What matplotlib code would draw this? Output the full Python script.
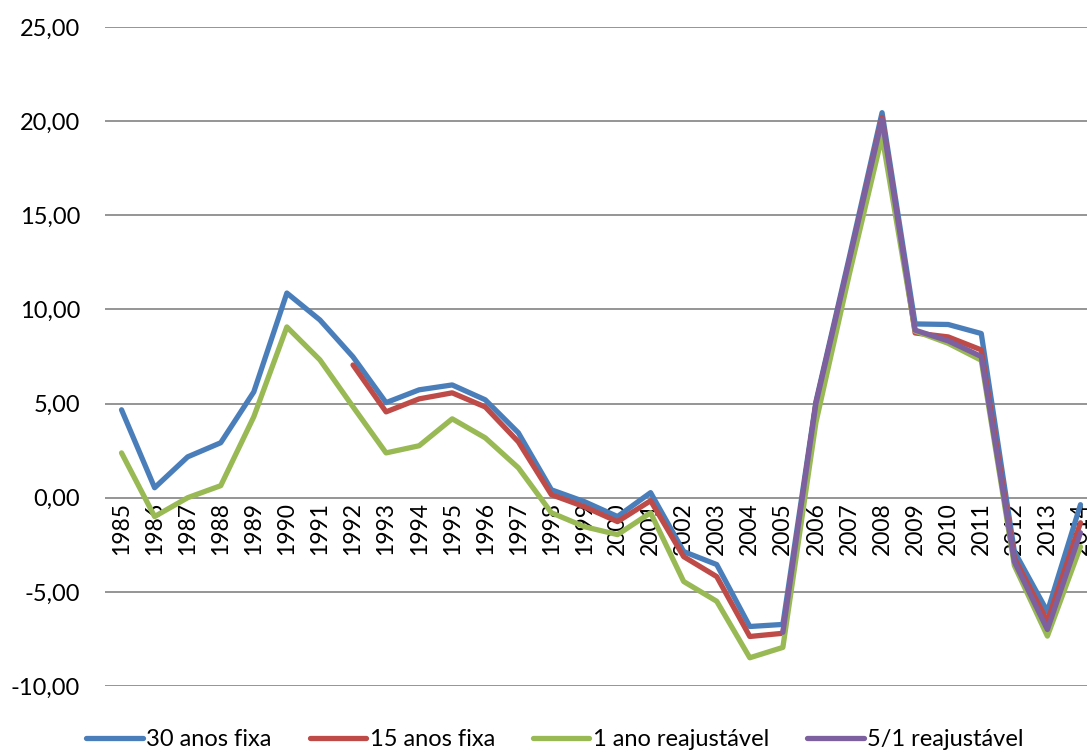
import numpy as np
import matplotlib.pyplot as plt

# Annual returns (%) by mortgage type
years = [str(y) for y in range(1985, 2015)]

fixa_30 = [4.67, 0.53, 2.17, 2.92, 5.62, 10.87, 9.44, 7.48, 5.05, 5.73,
           5.99, 5.20, 3.45, 0.42, -0.21, -1.00, 0.27, -2.86, -3.55, -6.84,
           -6.73, 5.10, 12.70, 20.45, 9.23, 9.20, 8.72, -2.85, -6.05, -0.37]
fixa_15 = [None] * 7 + [7.05, 4.56, 5.25, 5.57, 4.82, 2.97, 0.16, -0.48,
                        -1.27, -0.16, -3.13, -4.19, -7.37, -7.20, 5.00, 12.50,
                        20.20, 8.75, 8.54, 7.85, -3.20, -6.56, -1.33]
reaj_1 = [2.38, -1.00, 0.00, 0.64, 4.30, 9.07, 7.32, 4.83, 2.38, 2.76,
          4.19, 3.18, 1.59, -0.80, -1.54, -1.96, -0.80, -4.45, -5.50, -8.50,
          -7.95, 4.00, 11.80, 19.20, 8.85, 8.20, 7.30, -3.60, -7.35, -2.60]
reaj_51 = [None] * 20 + [-7.15, 5.00, 12.55, 20.10, 8.90, 8.33, 7.50,
                         -3.40, -7.00, -1.86]

series = [
    ("30 anos fixa", fixa_30, "#4A7EBB"),
    ("15 anos fixa", fixa_15, "#BE4B48"),
    ("1 ano reajustável", reaj_1, "#98B954"),
    ("5/1 reajustável", reaj_51, "#7D60A0"),
]

plt.rcParams['font.family'] = ['Lato', 'DejaVu Sans']

fig = plt.figure(figsize=(10.87, 7.51), dpi=100)
ax = fig.add_axes([105 / 1087, 1 - 686 / 751, 992 / 1087, 659 / 751])

x = np.arange(len(years))
for name, vals, color in series:
    y = np.array([np.nan if v is None else v for v in vals], dtype=float)
    ax.plot(x, y, color=color, lw=3.8, label=name, zorder=3,
            solid_joinstyle='round', solid_capstyle='round')

ax.set_xlim(-0.5, len(years) - 0.5)
ax.set_ylim(-10, 25)
yt = np.arange(-10, 26, 5)
ax.set_yticks(yt)
ax.set_yticklabels([f"{v:.2f}".replace(".", ",") for v in yt], fontsize=17)
ax.yaxis.grid(True, color="#8c8c8c", lw=1.3)
ax.set_axisbelow(True)
ax.tick_params(axis='y', length=0, pad=18)

# year labels hang just below the zero line
ax.spines['bottom'].set_position(('data', 0))
ax.set_xticks(x)
ax.set_xticklabels(years, rotation=90, fontsize=16.5, va='top')
ax.tick_params(axis='x', length=0, pad=3)
for s in ax.spines.values():
    s.set_visible(False)

fig.legend(loc='center', bbox_to_anchor=(555 / 1087, 1 - 740 / 751), ncol=4,
           frameon=False, fontsize=17, handlelength=2.4, handletextpad=0.15,
           columnspacing=1.6, borderaxespad=0)

fig.savefig("out.png", dpi=100)
